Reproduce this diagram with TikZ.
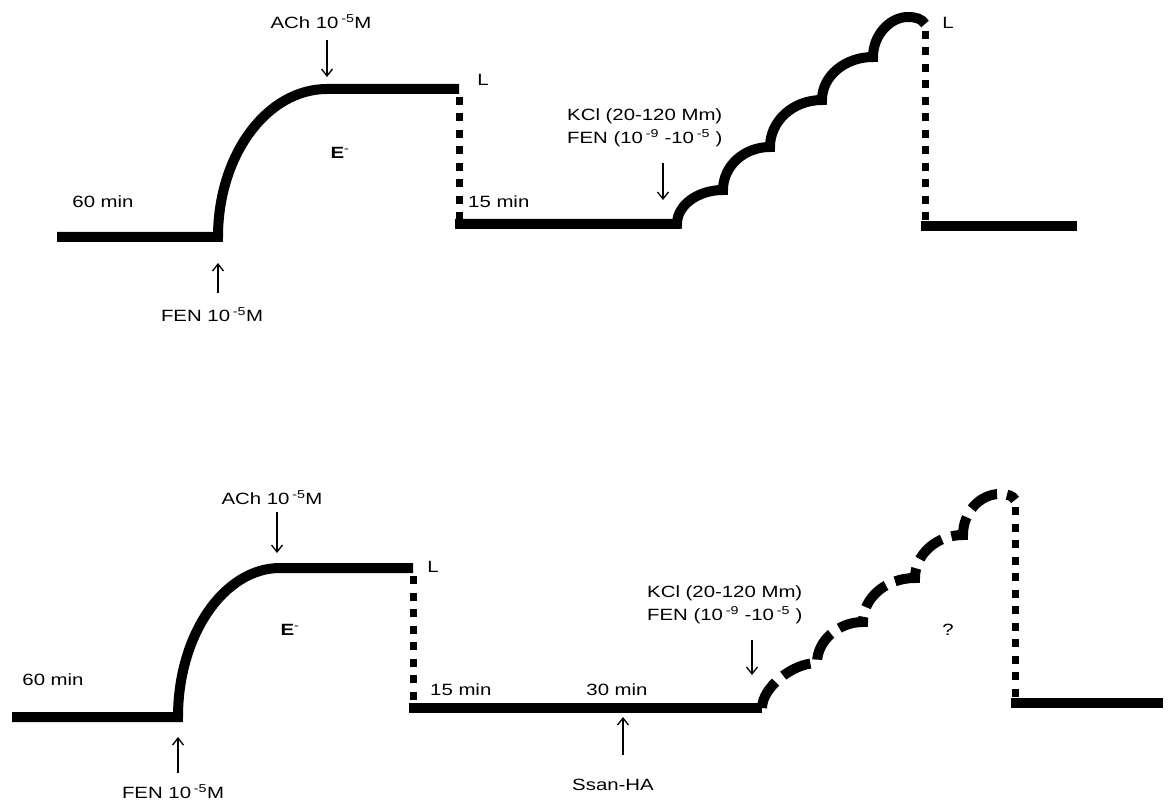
\documentclass[tikz,border=0pt]{standalone}
\usepackage{fontspec}
\setmainfont[FakeStretch=1.25]{Liberation Sans}
\usepackage{tikz}
\usetikzlibrary{arrows.meta}

\begin{document}
\begin{tikzpicture}[x=1pt,y=-1pt,
  trace/.style={line width=10pt},
  pause/.style={line width=7pt,dash pattern=on 8pt off 8.5pt},
  lbl/.style={font=\fontsize{16.3}{23}\selectfont,inner sep=0pt},
  pointer/.style={-{Straight Barb[length=7pt,width=11pt]},line width=1.3pt}]
\useasboundingbox (0,0) rectangle (1168,802);

% upper record: control
\draw[trace] (57,237) -- (218,237) .. controls (218,155) and (267,89) .. (327,89) -- (459,89);
\draw[pause] (459,97) -- (459,222);
\draw[trace] (455,224) -- (677,224)
  .. controls (677,205) and (698,190) .. (723,190)
  .. controls (723,166) and (744,147) .. (770,147)
  .. controls (770,121) and (793,100) .. (822,100)
  .. controls (822,76) and (845,57) .. (873,57)
  .. controls (873,35) and (890,17) .. (908,17)
  .. controls (916,17) and (922,19) .. (925,24);
\draw[pause] (925,31) -- (925,220);
\draw[trace] (921,226) -- (1077,226);

\node[lbl] (ach1) at (321,22) {ACh 10\,\textsuperscript{-5}M};
\node[lbl] (fen1) at (212,315) {FEN 10\,\textsuperscript{-5}M};
\node[lbl] (e1) at (340,153) {\textbf{E}\textsuperscript{-}};
\node[lbl] (l1) at (483,80) {L};
\node[lbl] (t60a) at (103,202) {60 min};
\node[lbl,anchor=west] (t15a) at (468,202) {15 min};
\node[lbl,anchor=west,align=left] (kcl1) at (567,128) {KCl (20-120 Mm)\\FEN (10\,\textsuperscript{-9} -10\,\textsuperscript{-5} )};
\node[lbl] (l2) at (948,23) {L};

\coordinate (ach1s) at (327,40);  \coordinate (ach1e) at (327,77);
\coordinate (fen1s) at (218,293); \coordinate (fen1e) at (218,263);
\coordinate (kcl1s) at (663,163); \coordinate (kcl1e) at (663,200);
\draw[pointer] (ach1s) -- (ach1e);
\draw[pointer] (fen1s) -- (fen1e);
\draw[pointer] (kcl1s) -- (kcl1e);

% lower record: with Ssan-HA
\draw[trace] (12,717) -- (178,717) .. controls (178,635) and (224,568) .. (280,568) -- (413,568);
\draw[pause] (413,576) -- (413,703);
\draw[trace] (409,708) -- (762,708);
\draw[trace,dash pattern=on 30pt off 10pt] (762,708)
  .. controls (762,688) and (792,663) .. (817,663)
  .. controls (817,641) and (838,622) .. (863,622)
  .. controls (863,598) and (886,578) .. (915,578)
  .. controls (915,554) and (937,535) .. (963,535)
  .. controls (963,512) and (980,494) .. (1000,494)
  .. controls (1008,494) and (1013,496) .. (1015,500);
\draw[pause] (1015,507) -- (1015,698);
\draw[trace] (1011,703) -- (1163,703);

\node[lbl] (ach2) at (272,498) {ACh 10\,\textsuperscript{-5}M};
\node[lbl] (fen2) at (173,792) {FEN 10\,\textsuperscript{-5}M};
\node[lbl] (e2) at (290,630) {\textbf{E}\textsuperscript{-}};
\node[lbl] (l3) at (433,567) {L};
\node[lbl] (t60b) at (53,680) {60 min};
\node[lbl,anchor=west] (t15b) at (430,690) {15 min};
\node[lbl] (t30) at (617,690) {30 min};
\node[lbl] (ssan) at (613,785) {Ssan-HA};
\node[lbl,anchor=west,align=left] (kcl2) at (647,605) {KCl (20-120 Mm)\\FEN (10\,\textsuperscript{-9} -10\,\textsuperscript{-5} )};
\node[lbl] (q) at (948,630) {?};

\coordinate (ach2s) at (277,512);  \coordinate (ach2e) at (277,553);
\coordinate (fen2s) at (178,773);  \coordinate (fen2e) at (178,737);
\coordinate (ssans) at (623,755);  \coordinate (ssane) at (623,717);
\coordinate (kcl2s) at (752,640);  \coordinate (kcl2e) at (752,675);
\draw[pointer] (ach2s) -- (ach2e);
\draw[pointer] (fen2s) -- (fen2e);
\draw[pointer] (ssans) -- (ssane);
\draw[pointer] (kcl2s) -- (kcl2e);
\end{tikzpicture}
\end{document}
